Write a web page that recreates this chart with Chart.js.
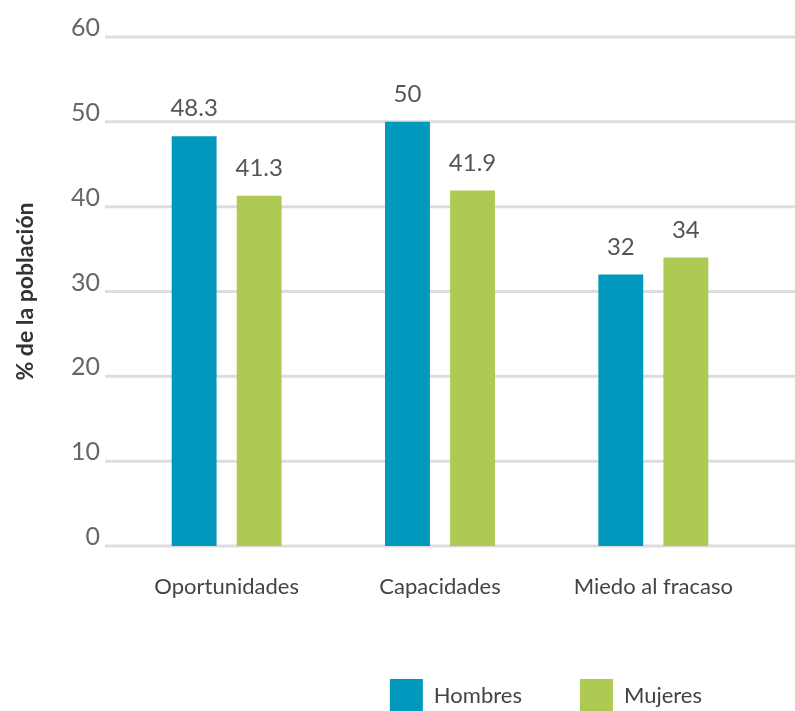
<!DOCTYPE html>
<html>
<head>
<meta charset="utf-8">
<script src="https://cdn.jsdelivr.net/npm/chart.js@4"></script>
<style>
  html, body { margin: 0; padding: 0; background: #fff; overflow: hidden; }
  #wrap { width: 795px; height: 722px; }
</style>
</head>
<body>
<div id="wrap"><canvas id="chart" width="795" height="722"></canvas></div>
<script>
const categories = ["Oportunidades", "Capacidades", "Miedo al fracaso"];
const seriesNames = ["Hombres", "Mujeres"];
const hombres = [48.3, 50, 32];
const mujeres = [41.3, 41.9, 34];
const yTicks = [0, 10, 20, 30, 40, 50, 60];

const colors = {
  "Hombres": "#0099bd",
  "Mujeres": "#afca53"
};

const gridColor = "#dddddd";

// horizontal grid runs from just right of the tick labels to the page edge
const gridLines = {
  id: "gridLines",
  beforeDatasetsDraw(chart) {
    const ctx = chart.ctx;
    const y = chart.scales.y;
    ctx.save();
    ctx.strokeStyle = gridColor;
    ctx.lineWidth = 3;
    y.ticks.forEach(t => {
      const py = y.getPixelForValue(t.value);
      ctx.beginPath();
      ctx.moveTo(105, py);
      ctx.lineTo(chart.width, py);
      ctx.stroke();
    });
    ctx.restore();
  }
};

// value labels above each bar
const valueLabels = {
  id: "valueLabels",
  afterDatasetsDraw(chart) {
    const ctx = chart.ctx;
    ctx.save();
    ctx.font = "24px Lato";
    ctx.fillStyle = "#555555";
    ctx.textAlign = "center";
    ctx.textBaseline = "alphabetic";
    chart.data.datasets.forEach((ds, i) => {
      chart.getDatasetMeta(i).data.forEach((bar, j) => {
        ctx.fillText(String(ds.data[j]), bar.x, bar.y - 20);
      });
    });
    ctx.restore();
  }
};

new Chart(document.getElementById("chart"), {
  type: "bar",
  data: {
    labels: categories,
    datasets: [
      {
        label: seriesNames[0],
        data: hombres,
        backgroundColor: colors["Hombres"],
        borderWidth: 0
      },
      {
        label: seriesNames[1],
        data: mujeres,
        backgroundColor: colors["Mujeres"],
        borderWidth: 0
      }
    ]
  },
  options: {
    responsive: false,
    animation: false,
    categoryPercentage: 0.61,
    barPercentage: 0.69,
    layout: {
      padding: { top: 37, right: 35, bottom: 0, left: 0 }
    },
    plugins: {
      tooltip: { enabled: false },
      legend: {
        position: "bottom",
        align: "end",
        labels: {
          boxWidth: 33,
          boxHeight: 33,
          padding: 58,
          color: "#444444",
          font: { family: "Lato", size: 22 }
        }
      }
    },
    scales: {
      x: {
        grid: { display: false, drawTicks: false },
        border: { display: false },
        ticks: {
          padding: 28,
          color: "#444444",
          font: { family: "Lato", size: 22 }
        },
        afterFit(scale) { scale.height = 75; }
      },
      y: {
        min: 0,
        max: 60,
        afterBuildTicks(scale) {
          scale.ticks = yTicks.map(v => ({ value: v }));
        },
        grid: { display: false, drawTicks: false },
        border: { display: false },
        ticks: {
          padding: 20,
          labelOffset: -9,
          color: "#666666",
          font: { family: "Lato", size: 25 }
        },
        title: {
          display: true,
          text: "% de la población",
          color: "#333333",
          padding: { top: 12, bottom: 0 },
          font: { family: "Lato", size: 23, weight: "bold" }
        },
        afterFit(scale) { scale.width = 120; }
      }
    }
  },
  plugins: [gridLines, valueLabels]
});
</script>
</body>
</html>
